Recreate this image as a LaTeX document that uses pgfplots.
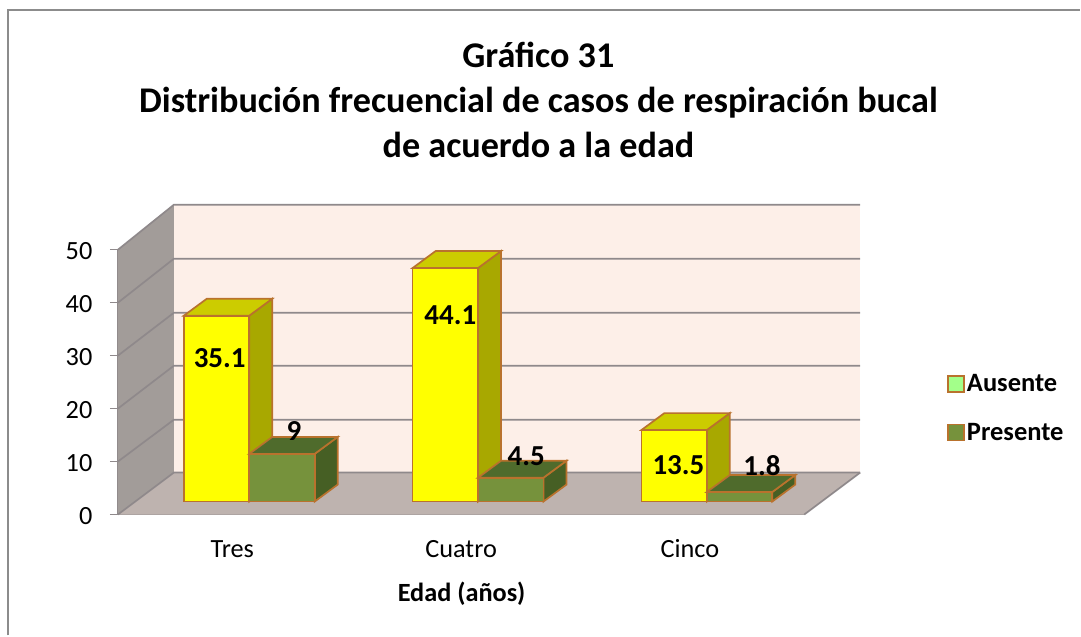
\documentclass[border=0pt]{standalone}
\usepackage{fontspec}
\setmainfont{Carlito}
\usepackage{pgfplots}
\pgfplotsset{compat=1.18}
\definecolor{edge}{HTML}{B9722D}
\definecolor{yfront}{HTML}{FFFF00}
\definecolor{yside}{HTML}{A8A800}
\definecolor{ytop}{HTML}{CCCC00}
\definecolor{gfront}{HTML}{76923C}
\definecolor{gside}{HTML}{465F24}
\definecolor{gtop}{HTML}{4F6B2C}
\definecolor{wallgrey}{HTML}{A29C99}
\definecolor{floorgrey}{HTML}{BEB3AF}
\definecolor{backwall}{HTML}{FDEFE8}
\definecolor{gridgrey}{HTML}{8F898B}
% one 3-D bar: category, side (-1 left / +1 right), value, colours of front, side and top
\newcommand{\threedbar}[6]{%
  \pgfmathsetmacro{\xa}{#1+(#2-1)/2*0.286}%
  \pgfmathsetmacro{\xb}{\xa+0.286}%
  \pgfmathsetmacro{\xc}{\xa+0.1004}%
  \pgfmathsetmacro{\xd}{\xb+0.1004}%
  \pgfmathsetmacro{\yt}{#3+3.2}%
  \pgfmathsetmacro{\yb}{3.2}%
  \edef\temp{%
    \noexpand\addplot[forget plot,bars3d,fill=#5] coordinates {(\xb,0) (\xd,\yb) (\xd,\yt) (\xb,#3)} --cycle;
    \noexpand\addplot[forget plot,bars3d,fill=#6] coordinates {(\xa,#3) (\xb,#3) (\xd,\yt) (\xc,\yt)} --cycle;
    \noexpand\addplot[forget plot,bars3d,fill=#4,ybar,bar width=65.5pt,bar shift=#2*32.75pt] coordinates {(#1,#3)};
  }\temp}
\begin{document}
\begin{tikzpicture}[x=1pt,y=1pt]
\fill[white] (0,0) rectangle (1081,636);
\draw[draw=black!45,line width=2pt] (8.5,0) -- (8.5,625.5) -- (1081,625.5);
\begin{axis}[
  at={(118pt,121pt)},anchor=south west,
  scale only axis,width=687pt,height=265pt,
  xmin=-0.5,xmax=2.5,ymin=0,ymax=50,
  clip=false,
  axis x line*=bottom,axis y line*=left,
  axis line style={-,draw=gridgrey,line width=1.8pt},
  xtick={0,1,2},xticklabels={Tres,Cuatro,Cinco},
  ytick={0,10,20,30,40,50},
  major x tick style={draw=none},
  major y tick style={draw=gridgrey,line width=1.4pt},
  tick align=outside,major tick length=8pt,
  /pgf/number format/assume math mode=true,
  tick label style={font=\fontsize{26.3}{26.3}\selectfont,text=black},
  xticklabel style={anchor=base,yshift=-35pt},
  yticklabel style={xshift=-14pt,yshift=-1.5pt},
  xlabel={Edad (años)},
  xlabel style={at={(axis description cs:0.5007,-0.299)},anchor=center,font=\fontsize{26.3}{26.3}\selectfont\bfseries},
  title={Gráfico 31\\Distribución frecuencial de casos de respiración bucal\\de acuerdo a la edad},
  title style={at={(axis description cs:0.6127,1.543)},anchor=center,align=center,
    font=\fontsize{36.2}{45}\selectfont\bfseries},
  bars3d/.style={xshift=17pt,yshift=13pt,draw=edge,line width=1.7pt},
  legend style={at={(axis description cs:1.2081,0.537)},anchor=north west,draw=none,fill=none,
    font=\fontsize{26.5}{26.5}\selectfont\bfseries,row sep=26pt,inner sep=0pt},
  legend cell align=left,
  legend image code/.code={\draw[#1,line width=1.7pt] (0pt,-8pt) rectangle (16pt,8pt);},
]
% walls and floor
\addplot[forget plot,draw=none,fill=backwall] coordinates {(-0.2555,7.92) (2.7445,7.92) (2.7445,58.5) (-0.2555,58.5)} --cycle;
\addplot[forget plot,draw=none,fill=wallgrey] coordinates {(-0.5,0) (-0.2555,7.92) (-0.2555,58.5) (-0.5,50)} --cycle;
\addplot[forget plot,draw=none,fill=floorgrey] coordinates {(-0.5,0) (2.5,0) (2.7445,7.92) (-0.2555,7.92)} --cycle;
% grid lines on the back wall and the side wall
\addplot[forget plot,draw=gridgrey,line width=1.7pt] coordinates {(-0.5,0) (-0.2555,7.92) (2.7445,7.92)};
\addplot[forget plot,draw=gridgrey,line width=1.7pt] coordinates {(-0.5,10) (-0.2555,17.9) (2.7445,17.9)};
\addplot[forget plot,draw=gridgrey,line width=1.7pt] coordinates {(-0.5,20) (-0.2555,28.1) (2.7445,28.1)};
\addplot[forget plot,draw=gridgrey,line width=1.7pt] coordinates {(-0.5,30) (-0.2555,38.1) (2.7445,38.1)};
\addplot[forget plot,draw=gridgrey,line width=1.7pt] coordinates {(-0.5,40) (-0.2555,48.3) (2.7445,48.3)};
\addplot[forget plot,draw=gridgrey,line width=1.7pt] coordinates {(-0.5,50) (-0.2555,58.5) (2.7445,58.5)};
\addplot[forget plot,draw=gridgrey,line width=1.7pt] coordinates {(2.5,0) (2.7445,7.92)};
% bars
\threedbar{0}{-1}{35.1}{yfront}{yside}{ytop}
\threedbar{0}{1}{9}{gfront}{gside}{gtop}
\threedbar{1}{-1}{44.1}{yfront}{yside}{ytop}
\threedbar{1}{1}{4.5}{gfront}{gside}{gtop}
\threedbar{2}{-1}{13.5}{yfront}{yside}{ytop}
\threedbar{2}{1}{1.8}{gfront}{gside}{gtop}
% legend
\addlegendimage{fill=green!40!white!90!yellow,draw=edge}
\addlegendentry{Ausente}
\addlegendimage{fill=gfront,draw=edge}
\addlegendentry{Presente}
% data labels
\node[font=\fontsize{29}{29}\selectfont\bfseries] at (axis cs:-0.055,29.5) {35.1};
\node[font=\fontsize{29}{29}\selectfont\bfseries] at (axis cs:0.27,15.7) {9};
\node[font=\fontsize{29}{29}\selectfont\bfseries] at (axis cs:0.953,37.7) {44.1};
\node[font=\fontsize{29}{29}\selectfont\bfseries] at (axis cs:1.285,11) {4.5};
\node[font=\fontsize{29}{29}\selectfont\bfseries] at (axis cs:1.95,9.3) {13.5};
\node[font=\fontsize{29}{29}\selectfont\bfseries] at (axis cs:2.315,9.3) {1.8};
\end{axis}
\end{tikzpicture}
\end{document}
